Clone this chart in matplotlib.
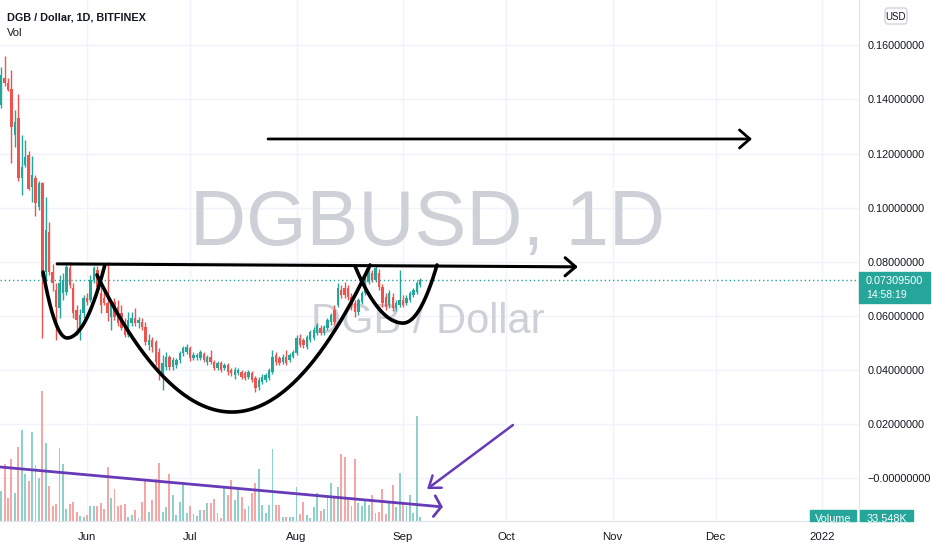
import numpy as np
import pandas as pd
import matplotlib
matplotlib.use('Agg')
import matplotlib.pyplot as plt
import matplotlib.dates as mdates
import matplotlib.transforms as mtransforms
from matplotlib.patches import Rectangle, FancyBboxPatch

plt.rcParams['font.family'] = ['Liberation Sans', 'DejaVu Sans']

#------------- 数据 ---------------------#
start_day = '2021-05-07'
open_ = [0.138, 0.148, 0.146, 0.144, 0.127, 0.133, 0.111, 0.1158, 0.1195, 0.1077,
         0.111, 0.1003, 0.109, 0.0762, 0.091, 0.0762, 0.0696, 0.0629, 0.0684, 0.0688,
         0.0777, 0.0703, 0.0622, 0.0555, 0.061, 0.0666, 0.0659, 0.0733, 0.077, 0.0684,
         0.0666, 0.0647, 0.0596, 0.0651, 0.0633, 0.061, 0.0573, 0.0529, 0.0573, 0.0592,
         0.0573, 0.0577, 0.0559, 0.0492, 0.0511, 0.0503, 0.0466, 0.0388, 0.0411, 0.0448,
         0.0411, 0.0418, 0.0437, 0.0462, 0.0466, 0.0481, 0.0444, 0.0448, 0.0444, 0.0459,
         0.0429, 0.0448, 0.0429, 0.0407, 0.0425, 0.0407, 0.0418, 0.0400, 0.0381, 0.0388,
         0.0392, 0.0388, 0.0374, 0.0388, 0.0370, 0.0337, 0.0355, 0.0363, 0.0370, 0.0392,
         0.0455, 0.0444, 0.0429, 0.0448, 0.0437, 0.0448, 0.0462, 0.0518, 0.0511, 0.0485,
         0.0511, 0.0518, 0.0536, 0.0555, 0.0536, 0.0555, 0.0577, 0.0622, 0.0640, 0.0696,
         0.0703, 0.0703, 0.0670, 0.0647, 0.0614, 0.0651, 0.0684, 0.0725, 0.0758, 0.0733,
         0.0758, 0.0707, 0.0670, 0.0640, 0.0670, 0.0629, 0.0640, 0.0659, 0.0647, 0.0659,
         0.0677, 0.0688, 0.0714]
high = [0.152, 0.156, 0.148, 0.151, 0.136, 0.142, 0.127, 0.125, 0.121, 0.119,
        0.112, 0.110, 0.1095, 0.104, 0.0947, 0.079, 0.0721, 0.075, 0.0758, 0.0799,
        0.080, 0.0721, 0.064, 0.0625, 0.0677, 0.0684, 0.0751, 0.0784, 0.0784, 0.0707,
        0.0690, 0.0799, 0.0659, 0.0666, 0.0659, 0.0640, 0.0592, 0.0614, 0.0614, 0.0629,
        0.0596, 0.0592, 0.0577, 0.0533, 0.0522, 0.0511, 0.0481, 0.0455, 0.0466, 0.0455,
        0.0448, 0.0444, 0.0470, 0.0489, 0.0496, 0.0489, 0.0466, 0.0462, 0.0474, 0.0466,
        0.0455, 0.0474, 0.0437, 0.0433, 0.0433, 0.0425, 0.0425, 0.0407, 0.0411, 0.0407,
        0.0400, 0.0396, 0.0400, 0.0396, 0.0377, 0.0374, 0.0385, 0.0388, 0.0407, 0.0474,
        0.0466, 0.0451, 0.0459, 0.0474, 0.0462, 0.0474, 0.0529, 0.0533, 0.0518, 0.0529,
        0.0548, 0.0559, 0.0573, 0.0566, 0.0566, 0.0592, 0.0610, 0.0640, 0.0721, 0.0714,
        0.0725, 0.0714, 0.0684, 0.0659, 0.0666, 0.0692, 0.0744, 0.0777, 0.0770, 0.0784,
        0.0773, 0.0718, 0.0684, 0.0696, 0.0684, 0.0659, 0.0770, 0.0677, 0.0677, 0.0692,
        0.0703, 0.0729, 0.0740]
low = [0.137, 0.145, 0.143, 0.1165, 0.1225, 0.110, 0.1047, 0.115, 0.1065, 0.102,
       0.097, 0.099, 0.0518, 0.073, 0.075, 0.0690, 0.0511, 0.059, 0.066, 0.0677,
       0.0703, 0.0592, 0.0529, 0.051, 0.0592, 0.064, 0.0651, 0.0721, 0.0688, 0.0610,
       0.0640, 0.058, 0.0548, 0.0585, 0.0563, 0.0548, 0.0522, 0.0522, 0.0563, 0.0563,
       0.0555, 0.0548, 0.0492, 0.0474, 0.0466, 0.0418, 0.0363, 0.0326, 0.0400, 0.0400,
       0.0400, 0.0407, 0.0425, 0.0451, 0.0459, 0.0433, 0.0437, 0.0437, 0.0437, 0.0429,
       0.0418, 0.0422, 0.0400, 0.0400, 0.0392, 0.0400, 0.0381, 0.0377, 0.0366, 0.0381,
       0.0366, 0.0363, 0.0366, 0.0355, 0.0318, 0.0326, 0.0348, 0.0355, 0.0363, 0.0385,
       0.0418, 0.0418, 0.0422, 0.0418, 0.0429, 0.0444, 0.0455, 0.0485, 0.0481, 0.0477,
       0.0503, 0.0511, 0.0529, 0.0529, 0.0529, 0.0548, 0.0566, 0.0566, 0.0633, 0.0666,
       0.0666, 0.0659, 0.0622, 0.0596, 0.0603, 0.0644, 0.0677, 0.0718, 0.0725, 0.0725,
       0.0696, 0.0633, 0.0622, 0.0629, 0.0618, 0.0618, 0.0633, 0.0633, 0.0640, 0.0651,
       0.0670, 0.0681, 0.0707]
close = [0.149, 0.146, 0.1435, 0.130, 0.1317, 0.111, 0.115, 0.1188, 0.107, 0.112,
         0.1017, 0.109, 0.0744, 0.0918, 0.0762, 0.0721, 0.0633, 0.0721, 0.0733, 0.0781,
         0.0714, 0.061, 0.0585, 0.0603, 0.0666, 0.0651, 0.0733, 0.0777, 0.0707, 0.064,
         0.0647, 0.061, 0.0647, 0.0596, 0.0573, 0.0555, 0.0529, 0.0585, 0.0592, 0.0573,
         0.0585, 0.0559, 0.0503, 0.0511, 0.0485, 0.0429, 0.0388, 0.0425, 0.0448, 0.0411,
         0.0437, 0.0437, 0.0462, 0.0481, 0.0485, 0.0444, 0.0455, 0.0455, 0.0466, 0.0437,
         0.0448, 0.0429, 0.0407, 0.0425, 0.0400, 0.0418, 0.0392, 0.0388, 0.0400, 0.0400,
         0.0374, 0.0370, 0.0392, 0.0363, 0.0333, 0.0363, 0.0374, 0.0381, 0.0400, 0.0448,
         0.0429, 0.0425, 0.0448, 0.0425, 0.0455, 0.0466, 0.0518, 0.0492, 0.0492, 0.0522,
         0.0540, 0.0548, 0.0566, 0.0536, 0.0559, 0.0585, 0.0603, 0.0577, 0.0703, 0.0677,
         0.0677, 0.0670, 0.0640, 0.0614, 0.0659, 0.0684, 0.0733, 0.0762, 0.0733, 0.0777,
         0.0707, 0.0647, 0.0633, 0.0684, 0.0629, 0.0647, 0.0659, 0.0640, 0.0666, 0.0684,
         0.0696, 0.0721, 0.073095]
# 成交量 (K)
volume_k = [234, 445, 179, 484, 218, 577, 710, 367, 312, 694,
            437, 335, 1014, 608, 273, 117, 133, 569, 445, 94,
            133, 148, 70, 39, 31, 47, 117, 117, 117, 140,
            94, 421, 179, 250, 117, 125, 133, 31, 47, 86,
            23, 148, 328, 70, 164, 328, 452, 70, 109, 367,
            203, 47, 148, 281, 62, 117, 55, 39, 86, 86,
            140, 140, 172, 62, 23, 257, 203, 320, 164, 242,
            187, 94, 117, 218, 296, 406, 125, 62, 125, 562,
            125, 125, 31, 31, 31, 31, 265, 55, 148, 47,
            23, 109, 218, 78, 94, 195, 296, 187, 265, 523,
            499, 187, 117, 484, 140, 117, 156, 125, 203, 62,
            70, 250, 55, 140, 281, 109, 374, 148, 117, 203,
            62, 819, 33.548]
last_price = 0.073095
countdown = '14:58:19'

price_ticks = [0.0, 0.02, 0.04, 0.06, 0.08, 0.10, 0.12, 0.14, 0.16]
month_ticks = ['2021-06-01', '2021-07-01', '2021-08-01', '2021-09-01',
               '2021-10-01', '2021-11-01', '2021-12-01', '2022-01-01']
month_labels = ['Jun', 'Jul', 'Aug', 'Sep', 'Oct', 'Nov', 'Dec', '2022']

#------------- 画线标注 (相对 6月1日 的天数, 价格) -------------#
ref_day = '2021-06-01'
cup_left = [(-12.8, 0.0762), (-5.8, 0.0518), (5.2, 0.0788)]
cup_big = [(2.9, 0.0751), (42.2, 0.0244), (82.4, 0.0788)]
cup_right = [(78.0, 0.0784), (92.0, 0.0573), (101.9, 0.0788)]
neck_line = [(-8.7, 0.0792), (142.9, 0.0781)]
target_line = [(52.7, 0.1254), (193.6, 0.1254)]
vol_trend = [(-25.5, 0.0041), (103.6, -0.0107)]
vol_pointer = [(124.0, 0.0196), (99.0, -0.0041)]

#------------- 颜色 -------------#
green = '#26a69a'
red = '#ef5350'
vgreen = '#8ed1ca'
vred = '#f6a7a5'
grid_c = '#f0f3fa'
text_c = '#131722'
purple = '#673ab7'

#------------- 画布 -------------#
W, H = 932, 550
fig = plt.figure(figsize=(W / 100, H / 100), dpi=100)
fig.patch.set_facecolor('white')
axv = fig.add_axes([0, (H - 521) / H, 859 / W, 521 / H])
ax = axv.twinx()
axv.set_zorder(1)
ax.set_zorder(2)

o = np.array(open_); h = np.array(high); l = np.array(low); c = np.array(close)
dates = pd.date_range(start_day, periods=len(c), freq='D')
x = mdates.date2num(dates)
up = c >= o
col = np.where(up, green, red)
base = mdates.date2num(pd.Timestamp(ref_day))

# 成交量
axv.bar(x, volume_k, width=0.55, color=np.where(up, vgreen, vred), linewidth=0, zorder=2)
axv.set_ylim(0, 4064)
axv.set_yticks([])

# 网格
axv.set_xticks(mdates.date2num(pd.to_datetime(month_ticks)))
axv.set_xticklabels(month_labels)
axv.grid(axis='x', color=grid_c, lw=1)
axv.set_axisbelow(True)
hgrid = mtransforms.blended_transform_factory(axv.transAxes, ax.transData)
for v in price_ticks:
    axv.plot([0, 1], [v, v], transform=hgrid, color=grid_c, lw=1, zorder=0.6)

# K线
ax.vlines(x, l, h, color=col, lw=1, zorder=3)
ax.bar(x, np.maximum(np.abs(c - o), 0.0004), bottom=np.minimum(o, c), width=0.7,
       color=col, linewidth=0, zorder=4)

ax.set_xlim(base - 25.33, base + 224.75)
ax.set_ylim(-0.0159, 0.1768)
ax.set_yticks(price_ticks)
ax.set_yticklabels(['\u22120.00000000' if v == 0 else f'{v:.8f}' for v in price_ticks])

# 现价虚线
ax.axhline(last_price, color=green, lw=1, ls=(0, (1, 2)), zorder=5)

# 水印
axv.text(427 / W, 1 - 245 / H, 'DGBUSD, 1D', transform=fig.transFigure, ha='center',
         va='baseline', fontsize=56, color='#cdd0d6', zorder=1, clip_on=False)
axv.text(428 / W, 1 - 333 / H, 'DGB / Dollar', transform=fig.transFigure, ha='center',
         va='baseline', fontsize=30, color='#cdd0d6', zorder=1, clip_on=False)

# 杯柄
def cup(pts, n=80):
    (xl, yl), (xb, yb), (xr, yr) = pts
    t1 = np.linspace(1, 0, n)
    t2 = np.linspace(0, 1, n)
    xs = np.concatenate([xb + (xl - xb) * t1, xb + (xr - xb) * t2])
    ys = np.concatenate([yb + (yl - yb) * t1 ** 2, yb + (yr - yb) * t2 ** 2])
    return base + xs, ys

for pts in (cup_left, cup_big, cup_right):
    cx, cy = cup(pts)
    ax.plot(cx, cy, color='black', lw=2.6, solid_capstyle='round', zorder=6)

def arrow(seg, color, lw, hl, hw):
    (x0, y0), (x1, y1) = seg
    ax.annotate('', xy=(base + x1, y1), xytext=(base + x0, y0),
                arrowprops=dict(arrowstyle=f'->,head_length={hl},head_width={hw}',
                                color=color, lw=lw, shrinkA=0, shrinkB=0), zorder=6)

arrow(neck_line, 'black', 2.2, 0.75, 0.65)
arrow(target_line, 'black', 2.0, 0.75, 0.65)
arrow(vol_trend, purple, 2.0, 0.5, 0.75)
arrow(vol_pointer, purple, 1.8, 0.75, 0.55)

# 坐标轴样式
for a in (ax, axv):
    for s in a.spines.values():
        s.set_visible(False)
axv.spines['bottom'].set_visible(True)
axv.spines['bottom'].set_color('#e0e3eb')
ax.spines['right'].set_visible(True)
ax.spines['right'].set_color('#e0e3eb')
ax.tick_params(axis='y', length=0, pad=6, labelsize=7.8, labelcolor=text_c)
axv.tick_params(axis='x', length=0, pad=8, labelsize=8.2, labelcolor=text_c)

# 标题
fig.text(7 / W, 1 - 17 / H, 'DGB / Dollar, 1D, BITFINEX', fontsize=7.8, weight='bold',
         color=text_c, va='center')
fig.text(7 / W, 1 - 33 / H, 'Vol', fontsize=8, color=text_c, va='center')

#------------- 右侧标签 -------------#
ov = fig.add_axes([0, 0, 1, 1])
ov.set_xlim(0, W)
ov.set_ylim(H, 0)
ov.axis('off')
ov.patch.set_visible(False)
ov.set_zorder(10)

ov.add_patch(Rectangle((859, 272), 71, 31, color=green))
ov.text(866, 281.5, f'{last_price:.8f}', color='white', fontsize=7.8, va='center')
ov.text(866, 294.5, countdown, color='white', fontsize=7.5, va='center')

ov.add_patch(FancyBboxPatch((885, 8), 22, 16, boxstyle='round,pad=0,rounding_size=3',
                            fc='white', ec='#d1d4dc', lw=1))
ov.text(896, 16.5, 'USD', color=text_c, fontsize=7, ha='center', va='center')

for (bx, bw, label) in ((810, 46, 'Volume'), (860, 53, f'{volume_k[-1]:.3f}K')):
    box = Rectangle((bx, 510), bw, 11, color=green)
    ov.add_patch(box)
    t = ov.text(bx + bw / 2, 519, label, color='white', fontsize=7.8, ha='center', va='center')
    t.set_clip_path(box)

fig.savefig('out.png', dpi=100)
